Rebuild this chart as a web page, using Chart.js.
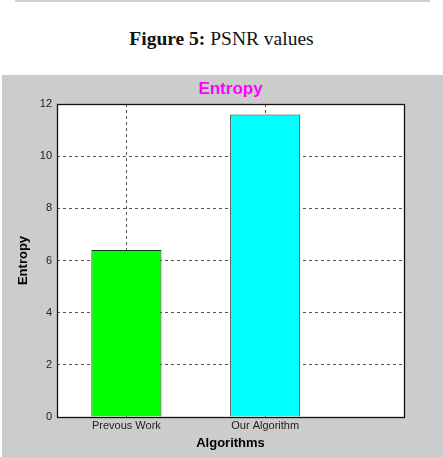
<!DOCTYPE html>
<html>
<head>
<meta charset="utf-8">
<script src="https://cdn.jsdelivr.net/npm/chart.js@4"></script>
<style>
  html, body { margin: 0; padding: 0; background: #ffffff; width: 443px; height: 457px; overflow: hidden; }
  #topline { position: absolute; left: 15px; top: 0px; width: 415px; height: 2px; background: #cfcfcf; }
  #caption { position: absolute; left: 0; top: 28px; width: 443px; text-align: center; line-height: 22px;
             font-family: "Liberation Serif", "Times New Roman", serif; font-size: 19.5px; color: #111; }
  #fig { position: absolute; left: 2px; top: 75px; width: 441px; height: 382px; background: #cccccc; }
  #c { display: block; }
</style>
</head>
<body>
<div id="topline"></div>
<div id="caption"><b>Figure 5:</b> PSNR values</div>
<div id="fig"><canvas id="c" width="441" height="382"></canvas></div>
<script>
const categories = ["Prevous Work", "Our Algorithm"];
const positions = [1, 2];
const entropyValues = [6.4, 11.6];
const barColors = ["#00ff00", "#00ffff"];
const yTicks = [0, 2, 4, 6, 8, 10, 12];

const frame = {
  id: 'frame',
  afterDraw(chart) {
    const a = chart.chartArea, ctx = chart.ctx;
    ctx.save();
    ctx.strokeStyle = '#111';
    ctx.lineWidth = 1.3;
    ctx.strokeRect(Math.round(a.left) + 0.5, Math.round(a.top) + 0.5,
                   Math.round(a.right - a.left), Math.round(a.bottom - a.top));
    ctx.restore();
  },
  beforeDraw(chart) {
    const a = chart.chartArea, ctx = chart.ctx;
    ctx.save();
    ctx.fillStyle = '#ffffff';
    ctx.fillRect(a.left, a.top, a.right - a.left, a.bottom - a.top);
    ctx.restore();
  }
};

new Chart(document.getElementById('c'), {
  type: 'bar',
  data: {
    datasets: [{
      data: positions.map((p, i) => ({ x: p, y: entropyValues[i] })),
      backgroundColor: barColors,
      borderColor: '#113322',
      borderWidth: 1,
      categoryPercentage: 1,
      barPercentage: 0.505
    }]
  },
  options: {
    responsive: false,
    animation: false,
    devicePixelRatio: 1,
    layout: { padding: { left: 0, right: 39, top: 0, bottom: 0 } },
    plugins: {
      legend: { display: false },
      tooltip: { enabled: false },
      title: {
        display: true,
        text: 'Entropy',
        color: '#ff00ff',
        fullSize: false,
        font: { family: 'Liberation Sans, Arial, sans-serif', size: 17, weight: 'bold', lineHeight: 1.2 },
        padding: { top: 4, bottom: 4.6 }
      }
    },
    scales: {
      x: {
        type: 'linear',
        min: 0.5,
        max: 3,
        offset: false,
        afterBuildTicks: (s) => { s.ticks = positions.map(v => ({ value: v })); },
        afterFit: (s) => { s.height = 40; },
        ticks: {
          callback: (v) => { const i = positions.indexOf(v); return i >= 0 ? categories[i] : ''; },
          color: '#222',
          font: { family: 'Liberation Sans, Arial, sans-serif', size: 11 },
          padding: 2,
          maxRotation: 0,
          autoSkip: false
        },
        grid: { color: '#555', offset: false, drawTicks: false, lineWidth: 1 },
        border: { display: false, dash: [3, 3] },
        title: {
          display: true,
          text: 'Algorithms',
          color: '#000',
          font: { family: 'Liberation Sans, Arial, sans-serif', size: 13, weight: 'bold', lineHeight: 1.2 },
          padding: { top: 0, bottom: 6 }
        }
      },
      y: {
        min: 0,
        max: 12,
        afterBuildTicks: (s) => { s.ticks = yTicks.map(v => ({ value: v })); },
        afterFit: (s) => { s.width = 55; },
        ticks: {
          color: '#222',
          font: { family: 'Liberation Sans, Arial, sans-serif', size: 11 },
          padding: 5
        },
        grid: { color: '#555', drawTicks: false, lineWidth: 1 },
        border: { display: false, dash: [3, 3] },
        title: {
          display: true,
          text: 'Entropy',
          color: '#000',
          font: { family: 'Liberation Sans, Arial, sans-serif', size: 13, weight: 'bold', lineHeight: 1.2 },
          padding: { top: 14, bottom: 0 }
        }
      }
    }
  },
  plugins: [frame]
});
</script>
</body>
</html>
